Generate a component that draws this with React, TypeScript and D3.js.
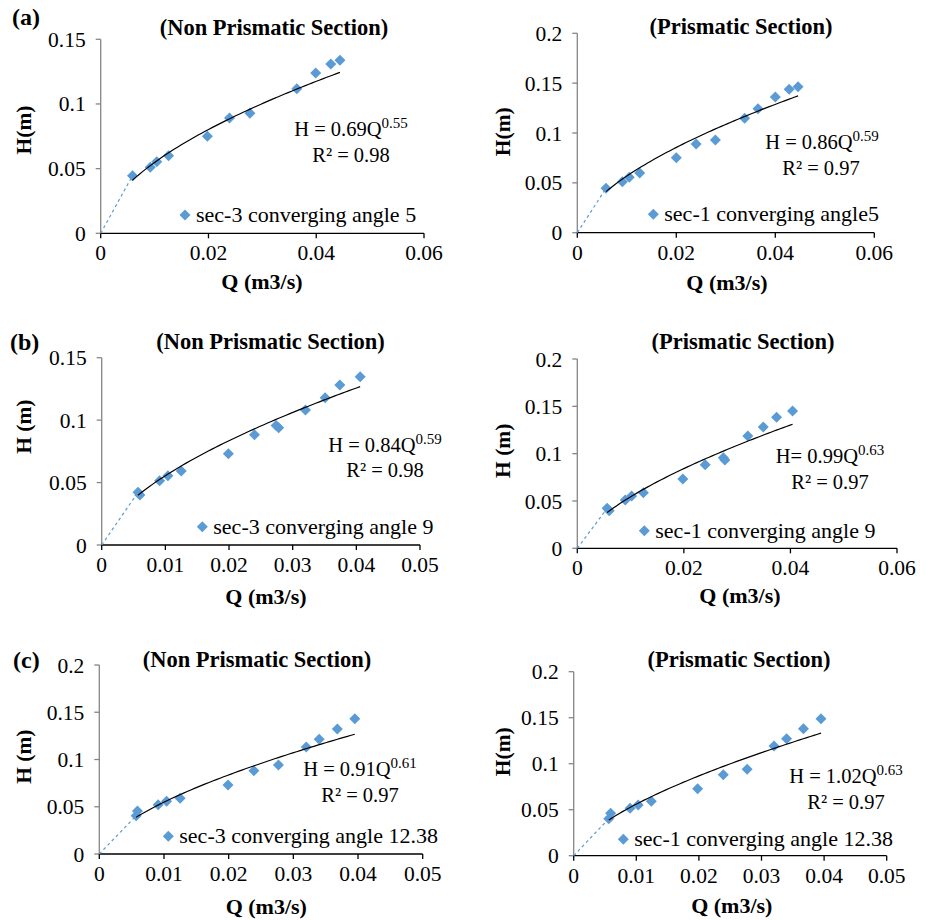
import React from "react";
import * as d3 from "d3";

// ---------- data ----------
const qA1 = [0.0059, 0.0092, 0.0104, 0.0126, 0.0198, 0.0239, 0.0277, 0.0364, 0.0399, 0.0427, 0.0444];
const hA1 = [0.0445, 0.051, 0.0554, 0.06, 0.075, 0.0892, 0.0928, 0.1118, 0.124, 0.1309, 0.1338];

const qA2 = [0.0058, 0.0091, 0.0105, 0.0126, 0.02, 0.024, 0.0279, 0.0338, 0.0365, 0.04, 0.0428, 0.0446];
const hA2 = [0.0445, 0.0512, 0.0556, 0.0599, 0.0753, 0.089, 0.093, 0.1148, 0.1244, 0.1361, 0.1438, 0.1465];

const qB1 = [0.0057, 0.006, 0.0091, 0.0104, 0.0125, 0.0199, 0.024, 0.0274, 0.0278, 0.032, 0.0351, 0.0374, 0.0406];
const hB1 = [0.0422, 0.04, 0.0515, 0.0555, 0.0593, 0.0731, 0.0883, 0.0958, 0.0939, 0.1081, 0.118, 0.1281, 0.1348];

const qB2 = [0.0056, 0.006, 0.009, 0.0102, 0.0124, 0.0198, 0.024, 0.0274, 0.0277, 0.032, 0.0349, 0.0374, 0.0404];
const hB2 = [0.0422, 0.0397, 0.051, 0.0552, 0.0587, 0.0732, 0.0883, 0.0957, 0.0933, 0.1186, 0.1281, 0.1384, 0.145];

const qC1 = [0.0059, 0.0057, 0.0091, 0.0104, 0.0125, 0.0199, 0.0239, 0.0277, 0.032, 0.034, 0.0368, 0.0395];
const hC1 = [0.0455, 0.0405, 0.0522, 0.0557, 0.0589, 0.073, 0.0882, 0.0942, 0.1132, 0.1213, 0.1323, 0.1432];

const qC2 = [0.0059, 0.0056, 0.009, 0.0103, 0.0124, 0.0198, 0.0239, 0.0277, 0.032, 0.034, 0.0367, 0.0395];
const hC2 = [0.0461, 0.0402, 0.0515, 0.0551, 0.0591, 0.0728, 0.088, 0.0939, 0.1192, 0.1272, 0.138, 0.1489];

// power-law trendline coefficients H = a Q^b
const coefA = [0.69, 0.86, 0.84, 0.99, 0.91, 1.02];
const coefB = [0.55, 0.59, 0.59, 0.63, 0.61, 0.63];
const eqPrefix = ["H = 0.69Q", "H = 0.86Q", "H = 0.84Q", "H= 0.99Q", "H = 0.91Q", "H = 1.02Q"];
const eqSup = ["0.55", "0.59", "0.59", "0.63", "0.61", "0.63"];
const r2Labels = ["R² = 0.98", "R² = 0.97", "R² = 0.98", "R² = 0.97", "R² = 0.97", "R² = 0.97"];
const legendLabels = [
  "sec-3 converging angle 5",
  "sec-1 converging angle5",
  "sec-3 converging angle 9",
  "sec-1 converging angle 9",
  "sec-3 converging angle 12.38",
  "sec-1 converging angle 12.38",
];
const titles = [
  "(Non Prismatic Section)",
  "(Prismatic Section)",
  "(Non Prismatic Section)",
  "(Prismatic Section)",
  "(Non Prismatic Section)",
  "(Prismatic Section)",
];
const yTitles = ["H(m)", "H(m)", "H (m)", "H (m)", "H (m)", "H(m)"];
const xTitle = "Q (m3/s)";
const panelLetters = ["(a)", "(b)", "(c)"];

const xTicks6 = [0, 0.02, 0.04, 0.06];
const xTicks5 = [0, 0.01, 0.02, 0.03, 0.04, 0.05];
const yTicks15 = [0, 0.05, 0.1, 0.15];
const yTicks20 = [0, 0.05, 0.1, 0.15, 0.2];

const qs = [qA1, qA2, qB1, qB2, qC1, qC2];
const hs = [hA1, hA2, hB1, hB2, hC1, hC2];
const xTickSets = [xTicks6, xTicks6, xTicks5, xTicks6, xTicks5, xTicks5];
const yTickSets = [yTicks15, yTicks20, yTicks15, yTicks20, yTicks20, yTicks20];

// ---------- layout ----------
type Layout = {
  xr: [number, number];
  yr: [number, number];
  title: [number, number];
  yt: [number, number];
  xt: [number, number];
  eq1: [number, number];
  eq2: [number, number];
  leg: [number, number];
};
const layouts: Layout[] = [
  { xr: [100.7, 424], yr: [233.3, 39.3], title: [274, 35], yt: [31, 130], xt: [262, 289], eq1: [351, 136], eq2: [351, 162], leg: [185, 215] },
  { xr: [577.3, 874.3], yr: [232.7, 33.3], title: [741, 34], yt: [510, 131.7], xt: [727, 290], eq1: [822, 149], eq2: [821, 175], leg: [653.3, 214.3] },
  { xr: [101.7, 420], yr: [545, 357.7], title: [270.5, 349.3], yt: [31, 426.7], xt: [266, 604], eq1: [385, 451.7], eq2: [385, 476.7], leg: [202.3, 526.7] },
  { xr: [577.3, 897], yr: [548.3, 359], title: [743, 349.3], yt: [510, 450.8], xt: [740, 603.3], eq1: [830, 463.3], eq2: [830, 489], leg: [644.3, 530.7] },
  { xr: [99.3, 422.7], yr: [854, 665], title: [257, 666.7], yt: [31, 756.7], xt: [266.3, 914], eq1: [360, 775.7], eq2: [360, 801.7], leg: [168.3, 836.3] },
  { xr: [573.7, 886.7], yr: [855.7, 671.7], title: [739, 666.7], yt: [510, 751.7], xt: [731.8, 913.3], eq1: [846, 783.3], eq2: [846, 809], leg: [623.3, 839.3] },
];
const letterPos: [number, number][] = [
  [12, 25],
  [10, 350],
  [13, 668],
];

const FONT = "Liberation Serif, DejaVu Serif, Times New Roman, serif";
const BLUE = "#5B9BD5";
const R = 5.5;
const diamond = (x: number, y: number) => `M${x},${y - R}L${x + R},${y}L${x},${y + R}L${x - R},${y}Z`;

function Panel({ i }: { i: number }) {
  const L = layouts[i];
  const xTicks = xTickSets[i];
  const yTicks = yTickSets[i];
  const x = d3.scaleLinear().domain([0, xTicks[xTicks.length - 1]]).range(L.xr);
  const y = d3.scaleLinear().domain([0, yTicks[yTicks.length - 1]]).range(L.yr);
  const q = qs[i];
  const h = hs[i];
  const qMin = d3.min(q) as number;
  const qMax = d3.max(q) as number;
  const iMin = q.indexOf(qMin);
  const a = coefA[i];
  const b = coefB[i];
  const trendQ = d3.range(0, 61).map((k) => qMin + ((qMax - qMin) * k) / 60);
  const line = d3
    .line<number>()
    .x((d) => x(d))
    .y((d) => y(a * Math.pow(d, b)));
  const fmt = (v: number) => (v === 0 ? "0" : String(+v.toFixed(2)));
  const x0 = L.xr[0];
  const y0 = L.yr[0];
  return (
    <g>
      <line x1={x0} x2={x0} y1={L.yr[0]} y2={L.yr[1]} stroke="#868686" strokeWidth={1.3} />
      {yTicks.map((t) => (
        <g key={"y" + t}>
          <line x1={x0 - 5} x2={x0} y1={y(t)} y2={y(t)} stroke="#868686" strokeWidth={1.3} />
          <text x={x0 - 15} y={y(t)} dy="0.35em" textAnchor="end" style={{ fontSize: 21.5 }}>
            {fmt(t)}
          </text>
        </g>
      ))}
      <line x1={L.xr[0]} x2={L.xr[1]} y1={y0} y2={y0} stroke="#000" strokeWidth={1.3} />
      {xTicks.map((t) => (
        <g key={"x" + t}>
          <line x1={x(t)} x2={x(t)} y1={y0} y2={y0 + 5} stroke="#000" strokeWidth={1.3} />
          <text x={x(t)} y={y0 + 27} textAnchor="middle" style={{ fontSize: 21.5 }}>
            {fmt(t)}
          </text>
        </g>
      ))}
      <line
        x1={x(0)}
        y1={y(0)}
        x2={x(q[iMin])}
        y2={y(h[iMin])}
        stroke={BLUE}
        strokeWidth={1.2}
        strokeDasharray="3,3"
      />
      {q.map((qq, k) => (
        <path key={k} d={diamond(x(qq), y(h[k]))} fill={BLUE} />
      ))}
      <path d={line(trendQ) || ""} fill="none" stroke="#000" strokeWidth={1.2} />
      <text x={L.title[0]} y={L.title[1]} textAnchor="middle" style={{ fontSize: 22.5, fontWeight: "bold" }}>
        {titles[i]}
      </text>
      <text x={L.xt[0]} y={L.xt[1]} textAnchor="middle" style={{ fontSize: 22, fontWeight: "bold" }}>
        {xTitle}
      </text>
      <text
        transform={`translate(${L.yt[0]},${L.yt[1]}) rotate(-90)`}
        textAnchor="middle"
        style={{ fontSize: 21.5, fontWeight: "bold" }}
      >
        {yTitles[i]}
      </text>
      <text x={L.eq1[0]} y={L.eq1[1]} textAnchor="middle" style={{ fontSize: 20.5 }}>
        <tspan>{eqPrefix[i]}</tspan>
        <tspan dy={-8} style={{ fontSize: 15 }}>
          {eqSup[i]}
        </tspan>
      </text>
      <text x={L.eq2[0]} y={L.eq2[1]} textAnchor="middle" style={{ fontSize: 20.5 }}>
        {r2Labels[i]}
      </text>
      <path d={diamond(L.leg[0], L.leg[1])} fill={BLUE} />
      <text x={L.leg[0] + 11} y={L.leg[1] + 7} style={{ fontSize: 22 }}>
        {legendLabels[i]}
      </text>
    </g>
  );
}

export default function App() {
  return (
    <svg
      width={929}
      height={920}
      style={{ position: "absolute", left: 0, top: 0, background: "#fff", fontFamily: FONT }}
      xmlns="http://www.w3.org/2000/svg"
    >
      <rect width={929} height={920} fill="#fff" />
      {layouts.map((_, i) => (
        <Panel key={i} i={i} />
      ))}
      {panelLetters.map((l, k) => (
        <text key={l} x={letterPos[k][0]} y={letterPos[k][1]} style={{ fontSize: 24, fontWeight: "bold" }}>
          {l}
        </text>
      ))}
    </svg>
  );
}
